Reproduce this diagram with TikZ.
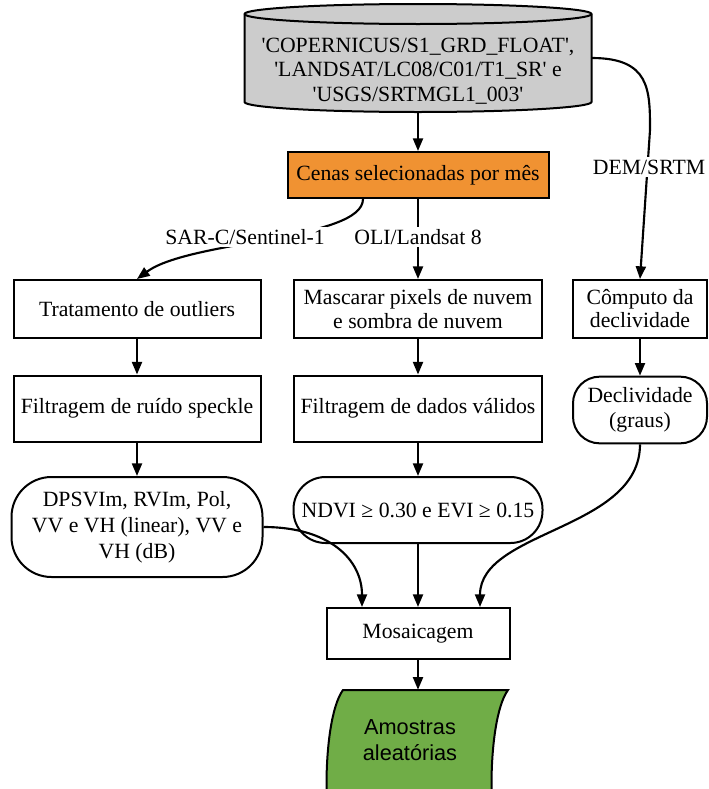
\documentclass[tikz,border=0pt]{standalone}
\usepackage{fontspec}
\setmainfont{Liberation Serif}
\newfontfamily\plainserif{Liberation Serif}
\newfontfamily\sansf{Liberation Sans}
\usetikzlibrary{arrows.meta,calc}
\definecolor{cylgray}{HTML}{CCCCCC}
\definecolor{orng}{HTML}{F09232}
\definecolor{grn}{HTML}{70AD47}
\begin{document}
\begin{tikzpicture}[x=0.75pt,y=-0.75pt,
  every node/.style={font=\fontsize{16.3}{18.5}\selectfont, align=center, inner sep=0pt},
  box/.style={draw, line width=1.5pt, fill=white},
  rbox/.style={box, rounded corners=30pt},
  arr/.style={line width=1.6pt, -{Triangle[length=9.5pt,width=7.5pt]}},
  lbl/.style={fill=white, inner sep=2pt}]
\useasboundingbox (0,0) rectangle (709,789);
\clip (0,0) rectangle (709,789);
% database cylinder
\node[minimum width=260.25pt, minimum height=81pt] (cyl) at (418,58) {};
\filldraw[fill=cylgray, line width=1.5pt] (244.5,14) -- (244.5,102)
  arc[start angle=180, end angle=360, x radius=130.125pt, y radius=7.5pt]
  -- (591.5,14)
  arc[start angle=0, end angle=180, x radius=130.125pt, y radius=7.5pt] -- cycle;
\draw[line width=1.5pt] (244.5,14) arc[start angle=180, end angle=360, x radius=130.125pt, y radius=7.5pt];
\node[font=\plainserif\fontsize{16.3}{18.2}\selectfont] (cyltxt) at (418,71)
  {'COPERNICUS/S1\_GRD\_FLOAT',\\'LANDSAT/LC08/C01/T1\_SR' e\\'USGS/SRTMGL1\_003'};
% boxes
\node[box, fill=orng, minimum width=195.75pt, minimum height=34.5pt] (cen) at (418,175) {Cenas selecionadas por mês};
\node[box, minimum width=185.25pt, minimum height=43.5pt] (trat) at (137,309) {Tratamento de outliers};
\node[box, minimum width=186pt, minimum height=43.5pt] (masc) at (418,309) {Mascarar pixels de nuvem\\e sombra de nuvem};
\node[box, minimum width=100.5pt, minimum height=43.5pt, font=\fontsize{16.3}{17.25}\selectfont] (comp) at (640,309) {Cômputo da\\declividade};
\node[box, minimum width=185.25pt, minimum height=49.5pt] (filt1) at (137,408.5) {Filtragem de ruído speckle};
\node[box, minimum width=186pt, minimum height=49.5pt] (filt2) at (418,408.5) {Filtragem de dados válidos};
\node[box, rounded corners=20pt, minimum width=100.5pt, minimum height=50pt] (decl) at (640,410) {Declividade\\(graus)};
\node[rbox, minimum width=188.25pt, minimum height=75pt, font=\fontsize{16.3}{19.5}\selectfont] (dps) at (137,527) {DPSVIm, RVIm, Pol,\\VV e VH (linear), VV e\\VH (dB)};
\node[box, rounded corners=24pt, minimum width=186.75pt, minimum height=49.5pt] (ndvi) at (418,510) {NDVI ≥ 0.30 e EVI ≥ 0.15};
\node[box, minimum width=137.25pt, minimum height=38.25pt] (mos) at (418,633.5) {Mosaicagem};
\node[minimum width=124pt, minimum height=142.5pt] (amo) at (418,785) {};
% connectors
\draw[arr] (cyl.south) -- (cen.north);
\draw[arr] ($(cen.south)+(-55,0)$) .. controls (363,240) and (190,240) .. (trat.north);
\draw[arr] (cen.south) -- (masc.north);
\draw[arr] (cyl.east) .. controls (650,58) and (650,90) .. (650,130) -- (comp.north);
\draw[arr] (trat.south) -- (filt1.north);
\draw[arr] (masc.south) -- (filt2.north);
\draw[arr] (comp.south) -- (decl.north);
\draw[arr] (filt1.south) -- (dps.north);
\draw[arr] (filt2.south) -- (ndvi.north);
\draw[arr] (dps.east) .. controls (330,527) and (362,560) .. ($(mos.north)+(-56,0)$);
\draw[arr] (ndvi.south) -- (mos.north);
\draw[arr] (decl.south) .. controls (640,530) and (480,530) .. ($(mos.north)+(62,0)$);
\draw[arr] (mos.south) -- (amo.north);
% labels
\node[lbl] (sar) at (245,237) {SAR-C/Sentinel-1};
\node[lbl] (oli) at (418,237) {OLI/Landsat 8};
\node[lbl] (dem) at (649,167) {DEM/SRTM};
% stored data shape
\filldraw[fill=grn, line width=1.5pt] (343,690) -- (508,690) .. controls (486,720) and (486,850) .. (508,880)
  -- (343,880) .. controls (321,850) and (321,720) .. cycle;
\node[font=\sansf\fontsize{16.3}{19}\selectfont] (amotxt) at (410,740) {Amostras\\aleatórias};
\end{tikzpicture}
\end{document}
